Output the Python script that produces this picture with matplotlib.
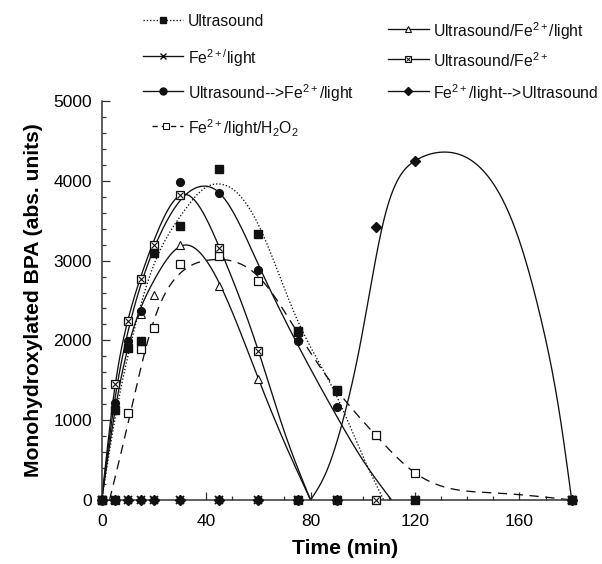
import numpy as np
import matplotlib
matplotlib.use("Agg")
import matplotlib.pyplot as plt
from matplotlib.lines import Line2D

plt.rcParams['font.family'] = ['Liberation Sans', 'DejaVu Sans']
plt.rcParams['mathtext.fontset'] = 'custom'
plt.rcParams['mathtext.rm'] = 'Liberation Sans'
plt.rcParams['mathtext.it'] = 'Liberation Sans'
plt.rcParams['mathtext.bf'] = 'Liberation Sans:bold'

# ---------------- data ----------------
lab_us = 'Ultrasound'
lab_fe = 'Fe$^{2+/}$light'
lab_seq = 'Ultrasound-->Fe$^{2+}$/light'
lab_h2o2 = 'Fe$^{2+}$/light/H$_2$O$_2$'
lab_tri = 'Ultrasound/Fe$^{2+}$/light'
lab_xsq = 'Ultrasound/Fe$^{2+}$'
lab_dia = 'Fe$^{2+}$/light-->Ultrasound'

# Ultrasound (filled squares)
t_us = [0, 5, 10, 15, 20, 30, 45, 60, 75, 90, 120, 180]
v_us = [0, 1130, 1900, 1990, 3100, 3430, 4150, 3330, 2115, 1375, 0, 0]
t_us_base = [5, 75, 90]
v_us_base = [0, 0, 0]

# Fe2+/light (crosses)
t_fe = [0, 5, 10, 15, 20, 30, 45, 60, 75, 90, 120, 180]
v_fe = [0, 0, 0, 0, 0, 0, 0, 0, 0, 0, 0, 0]

# Ultrasound-->Fe2+/light (filled circles)
t_seq = [0, 5, 10, 15, 30, 45, 60, 75, 90]
v_seq = [0, 1220, 1995, 2370, 3990, 3850, 2880, 1996, 1160]

# Fe2+/light/H2O2 (open squares)
t_h2o2 = [0, 10, 15, 20, 30, 45, 60, 75, 90, 105, 120, 180]
v_h2o2 = [0, 1090, 1890, 2160, 2960, 3060, 2750, 2100, 1370, 810, 340, 0]

# Ultrasound/Fe2+/light (open triangles)
t_tri = [0, 5, 10, 15, 20, 30, 45, 60]
v_tri = [0, 1150, 1900, 2330, 2570, 3200, 2680, 1520]

# Ultrasound/Fe2+ (crossed squares)
t_xsq = [0, 5, 10, 15, 20, 30, 45, 60, 105]
v_xsq = [0, 1450, 2240, 2770, 3200, 3820, 3160, 1870, 0]

# Fe2+/light-->Ultrasound (filled diamonds)
t_dia = [0, 5, 10, 15, 20, 30, 45, 60, 75, 90, 105, 120, 180]
v_dia = [0, 0, 0, 0, 0, 0, 0, 0, 0, 0, 3420, 4250, 0]

# fitted curves
ct_us = [0, 5, 10, 20, 30, 40, 45, 50, 60, 75, 90, 100, 108]
cv_us = [0, 1000, 1800, 2950, 3550, 3920, 3960, 3900, 3450, 2250, 1300, 550, 0]
ct_seq = [0, 5, 10, 20, 30, 38, 45, 60, 75, 90, 100, 111]
cv_seq = [0, 1250, 2100, 3150, 3750, 3930, 3850, 2950, 1950, 1050, 500, 0]
ct_xsq = [0, 5, 10, 15, 20, 31, 45, 60, 70, 80]
cv_xsq = [0, 1400, 2250, 2800, 3250, 3830, 3170, 1870, 850, 0]
ct_tri = [0, 5, 10, 20, 31, 45, 60, 70, 80]
cv_tri = [0, 1100, 1900, 2750, 3190, 2720, 1520, 720, 0]
ct_h2o2 = [3, 10, 14, 20, 30, 42, 60, 75, 90, 105, 120, 150, 180]
cv_h2o2 = [0, 950, 1520, 2250, 2840, 3010, 2800, 2100, 1380, 810, 340, 90, 0]
ct_dia = [80, 86, 92, 99, 108, 120, 131, 146, 159, 168, 175.5, 180]
cv_dia = [0, 350, 950, 1950, 3500, 4250, 4360, 4130, 3340, 2300, 1050, 0]


def spline(x, y, n=400):
    x = np.asarray(x, float)
    y = np.asarray(y, float)
    m = len(x)
    h = np.diff(x)
    A = np.zeros((m, m))
    b = np.zeros(m)
    A[0, 0] = 1
    A[-1, -1] = 1
    for i in range(1, m - 1):
        A[i, i - 1] = h[i - 1]
        A[i, i] = 2 * (h[i - 1] + h[i])
        A[i, i + 1] = h[i]
        b[i] = 3 * ((y[i + 1] - y[i]) / h[i] - (y[i] - y[i - 1]) / h[i - 1])
    c = np.linalg.solve(A, b)
    xs = np.linspace(x[0], x[-1], n)
    idx = np.clip(np.searchsorted(x, xs) - 1, 0, m - 2)
    dx = xs - x[idx]
    bb = (y[1:] - y[:-1]) / h - h * (2 * c[:-1] + c[1:]) / 3
    d = (c[1:] - c[:-1]) / (3 * h)
    ys = y[idx] + bb[idx] * dx + c[idx] * dx ** 2 + d[idx] * dx ** 3
    return xs, ys


K = '#111111'
W, H = 602, 564
fig = plt.figure(figsize=(W / 100, H / 100), dpi=100)
ax = fig.add_axes([101.7 / W, 1 - 500 / H, 470 / W, 399 / H])

lw = 0.95
DOT = (0, (1.0, 1.5))
DASH = (0, (7, 5))
# curves
x, y = spline(ct_us, cv_us)
ax.plot(x, y, color=K, lw=lw, ls=DOT)
x, y = spline(ct_seq, cv_seq)
ax.plot(x, y, color=K, lw=lw)
x, y = spline(ct_xsq, cv_xsq)
ax.plot(x, y, color=K, lw=lw)
x, y = spline(ct_tri, cv_tri)
ax.plot(x, y, color=K, lw=lw)
x, y = spline(ct_h2o2, cv_h2o2)
ax.plot(x, y, color=K, lw=lw, ls=DASH)
x, y = spline(ct_dia, cv_dia)
ax.plot(x, y, color=K, lw=lw)

# markers
mk = dict(ls='none', clip_on=False, zorder=5)
ax.plot(t_dia, v_dia, marker='D', ms=4.8, color=K, **mk)
ax.plot(t_fe, v_fe, marker='x', ms=5.5, mew=1.3, color=K, **mk)
ax.plot(t_h2o2, v_h2o2, marker='s', ms=6.0, mfc='white', mec=K, mew=0.9, **mk)
ax.plot(t_tri, v_tri, marker='^', ms=6.2, mfc='white', mec=K, mew=0.8, **mk)
ax.plot(t_xsq, v_xsq, marker='s', ms=6.0, mfc='white', mec=K, mew=0.9, **mk)
ax.plot(t_xsq, v_xsq, marker='x', ms=4.2, mew=0.8, color=K, **mk)
ax.plot(t_seq, v_seq, marker='o', ms=5.6, color=K, **mk)
ax.plot(t_us, v_us, marker='s', ms=6.0, color=K, **mk)
ax.plot(t_us_base, v_us_base, marker='s', ms=6.0, color=K, **mk)

ax.set_xlim(0, 180)
ax.set_ylim(0, 5000)
for s in ['top', 'right']:
    ax.spines[s].set_visible(False)
for s in ['left', 'bottom']:
    ax.spines[s].set_color('#333333')
    ax.spines[s].set_linewidth(1.1)
ax.set_xticks([0, 40, 80, 120, 160])
ax.set_xticks(np.arange(0, 181, 10), minor=True)
ax.set_yticks([0, 1000, 2000, 3000, 4000, 5000])
ax.set_yticks(np.arange(0, 5001, 200), minor=True)
ax.tick_params(which='both', direction='in', color='#333333', width=0.9)
ax.tick_params(which='major', length=6, labelsize=12.5)
ax.tick_params(which='minor', length=3.2)
ax.tick_params(axis='x', which='major', pad=10)
ax.tick_params(axis='y', which='major', pad=7)
ax.set_xlabel('Time (min)', fontsize=15.2, fontweight='bold')
ax.xaxis.set_label_coords(0.517, -0.097)
ax.set_ylabel('Monohydroxylated BPA (abs. units)', fontsize=15.2, fontweight='bold')
ax.yaxis.set_label_coords(-0.125, 0.5)

# legend, drawn entry by entry
FS = 11.3


def entry(yp, x0, x1, xm, xt, label, ls, mstyle, xs0=None):
    yy = 1 - yp / H
    hx0 = xs0 if xs0 is not None else x0
    fig.add_artist(Line2D([hx0 / W, x1 / W], [yy, yy], color=K, lw=lw, ls=ls,
                          transform=fig.transFigure))
    for st in mstyle:
        fig.add_artist(Line2D([xm / W], [yy], transform=fig.transFigure, ls='none', **st))
    fig.text(xt / W, yy, label, fontsize=FS, va='center_baseline', ha='left', color=K)


m_sq = dict(marker='s', ms=5, color=K)
m_x = dict(marker='x', ms=5, mew=1.0, color=K)
m_o = dict(marker='o', ms=5, color=K)
m_osq = dict(marker='s', ms=5, mfc='white', mec=K, mew=0.8)
m_tri = dict(marker='^', ms=5, mfc='white', mec=K, mew=0.8)
m_xx = dict(marker='x', ms=3.5, mew=0.7, color=K)
m_dia = dict(marker='D', ms=4, color=K)

LX0, LX1, LXM, LXT = 143, 183, 163, 188
RX0, RX1, RXM, RXT = 388, 429, 408, 433
entry(20, LX0, LX1, LXM, LXT, lab_us, DOT, [m_sq])
entry(56, LX0, LX1, LXM, LXT, lab_fe, '-', [m_x])
entry(91, LX0, LX1, LXM, LXT, lab_seq, '-', [m_o])
entry(126, LX0, LX1, 166, LXT, lab_h2o2, (0, (4, 3)), [m_osq], xs0=152)
entry(29, RX0, RX1, RXM, RXT, lab_tri, '-', [m_tri])
entry(59, RX0, RX1, RXM, RXT, lab_xsq, '-', [m_osq, m_xx])
entry(91, RX0, RX1, RXM, RXT, lab_dia, '-', [m_dia])

fig.savefig('out.png', dpi=100)
